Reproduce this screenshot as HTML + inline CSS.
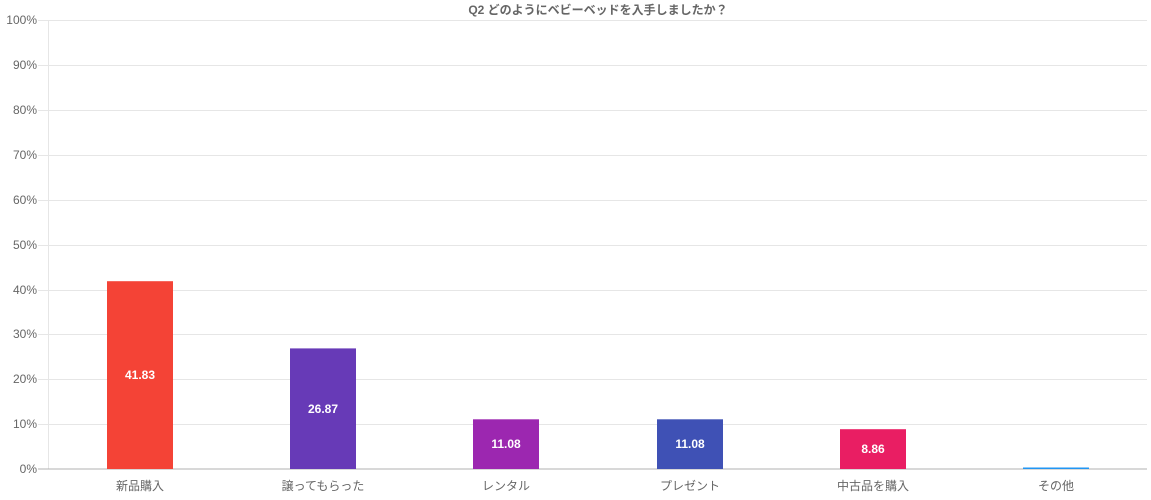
<!DOCTYPE html>
<html><head><meta charset="utf-8"><style>
body{margin:0;background:#fff;}
svg{display:block;font-family:"Liberation Sans","Noto Sans CJK JP",sans-serif;}
</style></head><body>
<svg width="1151" height="500" xmlns="http://www.w3.org/2000/svg">
<text x="598" y="14" text-anchor="middle" font-size="12" font-weight="bold" fill="#666">Q2 どのようにベビーベッドを入手しましたか？</text>
<g stroke="#e6e6e6" stroke-width="1">
<line x1="38" x2="1147" y1="20.5" y2="20.5"/>
<line x1="38" x2="1147" y1="65.5" y2="65.5"/>
<line x1="38" x2="1147" y1="110.5" y2="110.5"/>
<line x1="38" x2="1147" y1="155.5" y2="155.5"/>
<line x1="38" x2="1147" y1="200.5" y2="200.5"/>
<line x1="38" x2="1147" y1="245.5" y2="245.5"/>
<line x1="38" x2="1147" y1="290.5" y2="290.5"/>
<line x1="38" x2="1147" y1="334.5" y2="334.5"/>
<line x1="38" x2="1147" y1="379.5" y2="379.5"/>
<line x1="38" x2="1147" y1="424.5" y2="424.5"/>
<line x1="48.5" x2="48.5" y1="20" y2="469"/>
</g>
<line x1="38" x2="1147" y1="469" y2="469" stroke="#b0b0b0" stroke-width="1"/>
<g font-size="12" fill="#666" text-anchor="end">
<text x="37" y="24">100%</text><text x="37" y="69">90%</text><text x="37" y="114">80%</text>
<text x="37" y="159">70%</text><text x="37" y="204">60%</text><text x="37" y="249">50%</text>
<text x="37" y="294">40%</text><text x="37" y="338">30%</text><text x="37" y="383">20%</text>
<text x="37" y="428">10%</text><text x="37" y="473">0%</text>
</g>
<rect x="107" y="281.2" width="66" height="187.8" fill="#f44336"/>
<rect x="290" y="348.4" width="66" height="120.6" fill="#673ab7"/>
<rect x="473" y="419.3" width="66" height="49.7" fill="#9c27b0"/>
<rect x="657" y="419.3" width="66" height="49.7" fill="#3f51b5"/>
<rect x="840" y="429.2" width="66" height="39.8" fill="#e91e63"/>
<rect x="1023" y="467.5" width="66" height="1.5" fill="#2196f3"/>
<g font-size="12" font-weight="bold" fill="#fff" text-anchor="middle">
<text x="140" y="379">41.83</text><text x="323" y="413">26.87</text>
<text x="506" y="448">11.08</text><text x="690" y="448">11.08</text><text x="873" y="453">8.86</text>
</g>
<g font-size="12" fill="#666" text-anchor="middle">
<text x="140" y="490">新品購入</text><text x="323" y="490">譲ってもらった</text>
<text x="506" y="490">レンタル</text><text x="690" y="490">プレゼント</text>
<text x="873" y="490">中古品を購入</text><text x="1056" y="490">その他</text>
</g>
</svg>
</body></html>
